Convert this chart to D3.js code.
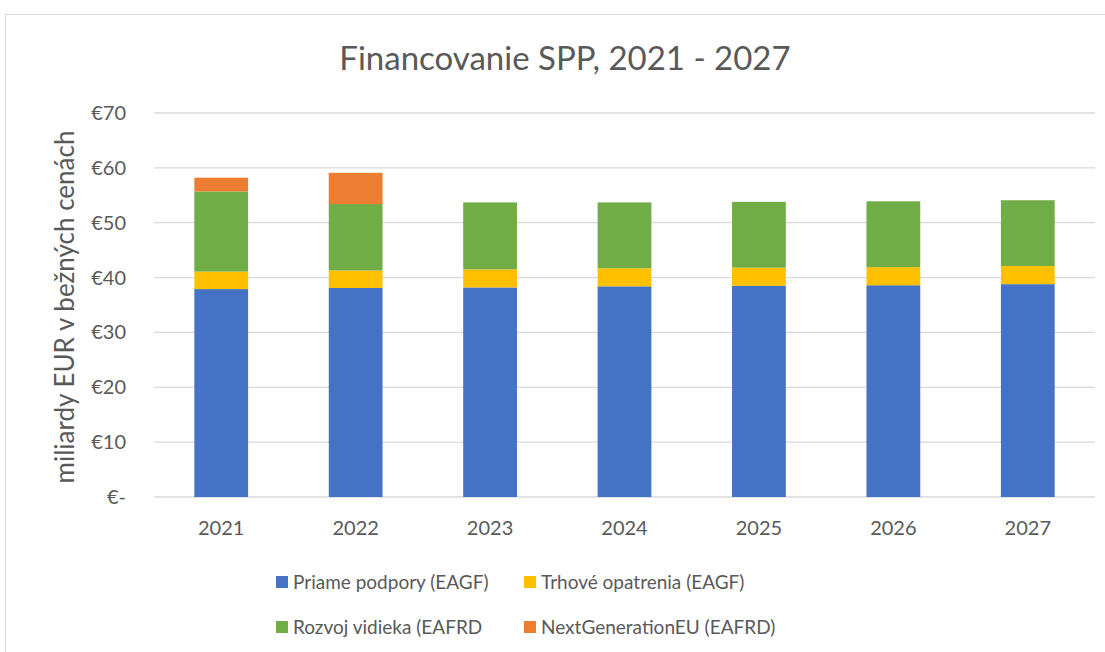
<!DOCTYPE html>
<html>
<head>
<meta charset="utf-8">
<script src="https://cdn.jsdelivr.net/npm/d3@7"></script>
<style>
  body { margin: 0; background: #fff; }
  text { font-family: Lato, "Open Sans", sans-serif; fill: #595959; }
</style>
</head>
<body>
<script>
var years = ["2021", "2022", "2023", "2024", "2025", "2026", "2027"];
var priame = [37.9, 38.1, 38.2, 38.4, 38.5, 38.6, 38.8];
var trhove = [3.2, 3.2, 3.3, 3.3, 3.3, 3.3, 3.3];
var rozvoj = [14.6, 12.1, 12.2, 12.0, 12.0, 12.0, 12.0];
var nextGen = [2.5, 5.7, 0, 0, 0, 0, 0];
var seriesNames = ["Priame podpory (EAGF)", "Trhové opatrenia (EAGF)", "Rozvoj vidieka (EAFRD", "NextGenerationEU (EAFRD)"];
var yTicks = [0, 10, 20, 30, 40, 50, 60, 70];

var colors = ["#4472c4", "#ffc000", "#70ad47", "#ed7d31"];
var W = 1105, H = 652;
var margin = { top: 113, bottom: 155, left: 154, right: 15 };

var svg = d3.select("body").append("svg").attr("width", W).attr("height", H);

// outer chart border
svg.append("rect").attr("x", 5.5).attr("y", 14.5).attr("width", W - 4).attr("height", H)
    .attr("fill", "none").attr("stroke", "#d9d9d9").attr("stroke-width", 1);

var table = years.map((y, i) => ({ year: y, s0: priame[i], s1: trhove[i], s2: rozvoj[i], s3: nextGen[i] }));
var stack = d3.stack().keys(["s0", "s1", "s2", "s3"])(table);

var x = d3.scaleBand().domain(years).range([margin.left, W - margin.right + 5]).paddingInner(0.6).paddingOuter(0.3);
var y = d3.scaleLinear().domain([0, 70]).range([497, margin.top]);

// gridlines
svg.append("g").selectAll("line").data(yTicks).enter().append("line")
    .attr("x1", margin.left).attr("x2", W - margin.right + 5)
    .attr("y1", d => y(d)).attr("y2", d => y(d))
    .attr("stroke", "#d9d9d9").attr("stroke-width", 1.3);

// y tick labels
svg.append("g").selectAll("text").data(yTicks).enter().append("text")
    .attr("x", 126).attr("y", d => y(d)).attr("dy", "0.35em")
    .attr("text-anchor", "end").style("font-size", "20px")
    .text(d => d === 0 ? "€-" : "€" + d);

// bars
var layers = svg.append("g").selectAll("g").data(stack).enter().append("g")
    .attr("fill", (d, i) => colors[i]);
layers.selectAll("rect").data(d => d).enter().append("rect")
    .attr("x", d => x(d.data.year))
    .attr("width", x.bandwidth())
    .attr("y", d => y(d[1]))
    .attr("height", d => y(d[0]) - y(d[1]));

// x labels
svg.append("g").selectAll("text").data(years).enter().append("text")
    .attr("x", d => x(d) + x.bandwidth() / 2).attr("y", 528).attr("dy", "0.35em")
    .attr("text-anchor", "middle").style("font-size", "20px")
    .text(d => d);

// title
svg.append("text").attr("x", 565).attr("y", 58).attr("dy", "0.35em")
    .attr("text-anchor", "middle").style("font-size", "33px")
    .text("Financovanie SPP, 2021 - 2027");

// y axis title
svg.append("text").attr("transform", "translate(65,307) rotate(-90)").attr("dy", "0.35em")
    .attr("text-anchor", "middle").style("font-size", "26px")
    .text("miliardy EUR v bežných cenách");

// legend
var legPos = [[276, 582], [524, 582], [276, 627], [524, 627]];
var leg = svg.append("g").selectAll("g").data(seriesNames).enter().append("g")
    .attr("transform", (d, i) => "translate(" + legPos[i] + ")");
leg.append("rect").attr("x", 0).attr("y", -6).attr("width", 12).attr("height", 12)
    .attr("fill", (d, i) => colors[i]);
leg.append("text").attr("x", 17).attr("dy", "0.35em").style("font-size", "19px").text(d => d);
</script>
</body>
</html>
